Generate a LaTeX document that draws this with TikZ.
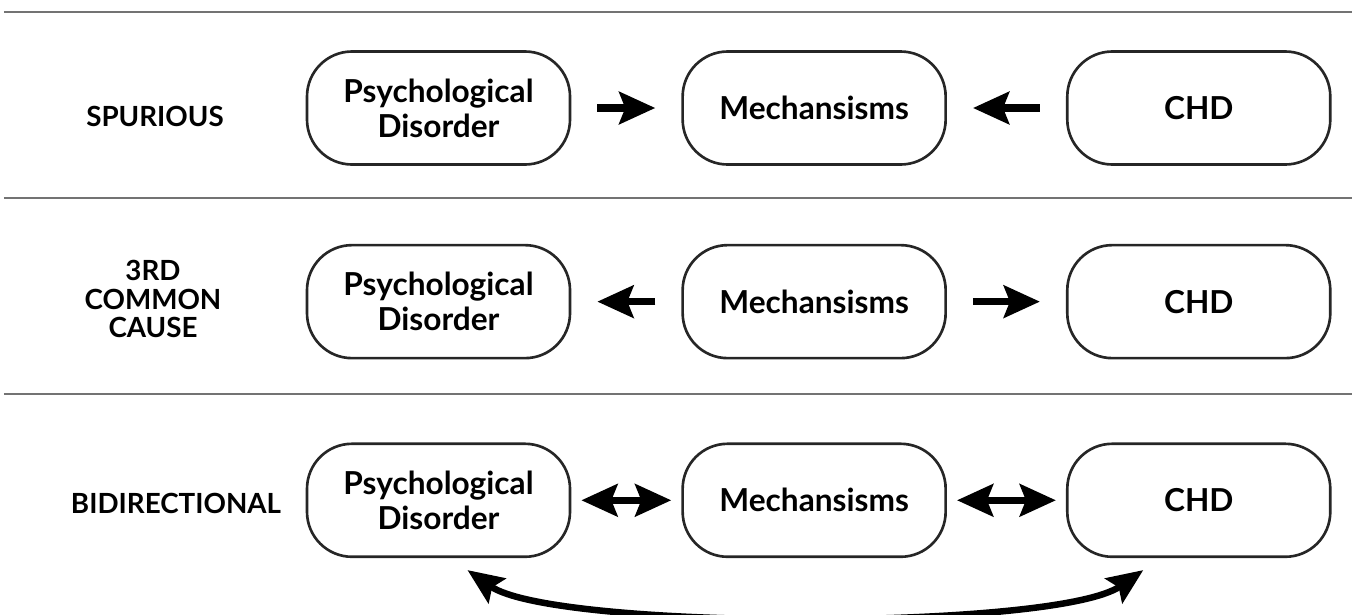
\documentclass[tikz,border=0pt]{standalone}
\usepackage{fontspec}
\setmainfont{Lato}
\usetikzlibrary{arrows.meta, positioning}
\tikzset{
  pill/.style = {
    rectangle, rounded corners=0.45cm, draw=black!85, line width=0.75pt,
    minimum width=2.63cm, minimum height=1.13cm,
    align=center, inner sep=2pt,
    font=\bfseries\fontsize{9}{10}\selectfont
  },
  rowlabel/.style = {
    align=center, inner sep=1pt,
    font=\bfseries\fontsize{7.9}{8}\selectfont
  },
  sepline/.style = {draw=black!55, line width=0.6pt},
  fat/.style  = {-{Stealth[length=0.36cm, width=0.32cm, inset=0.06cm]},
                 line width=0.075cm, shorten <=0.26cm, shorten >=0.26cm},
  fatb/.style = {{Stealth[length=0.36cm, width=0.32cm, inset=0.06cm]}-{Stealth[length=0.36cm, width=0.32cm, inset=0.06cm]},
                 line width=0.075cm, shorten <=0.1cm, shorten >=0.1cm},
  curv/.style = {{Stealth[length=0.36cm, width=0.3cm, inset=0.06cm]}-{Stealth[length=0.36cm, width=0.3cm, inset=0.06cm]},
                 line width=0.065cm}
}
\begin{document}
\begin{tikzpicture}
\useasboundingbox (0,0) rectangle (13.55,6.14);

%% separators
\coordinate (s1l) at (0.04,6.02);  \coordinate (s1r) at (13.52,6.02);
\coordinate (s2l) at (0.04,4.16);  \coordinate (s2r) at (13.52,4.16);
\coordinate (s3l) at (0.04,2.20);  \coordinate (s3r) at (13.52,2.20);
\draw[sepline] (s1l)--(s1r);
\draw[sepline] (s2l)--(s2r);
\draw[sepline] (s3l)--(s3r);

%% Row 1
\node[pill] (pdA) at (4.385,5.06) {Psychological\\Disorder};
\node[pill, right=1.1cm of pdA]   (meA)  {Mechansisms};
\node[pill, right=1.19cm of meA]  (chdA) {CHD};

%% Row 2
\node[pill, below=0.78cm of pdA]  (pdB)  {Psychological\\Disorder};
\node[pill, right=1.1cm of pdB]   (meB)  {Mechansisms};
\node[pill, right=1.19cm of meB]  (chdB) {CHD};

%% Row 3
\node[pill, below=0.83cm of pdB]  (pdC)  {Psychological\\Disorder};
\node[pill, right=1.1cm of pdC]   (meC)  {Mechansisms};
\node[pill, right=1.19cm of meC]  (chdC) {CHD};

%% Row labels
\node[rowlabel] (labA) at (1.55,4.98) {SPURIOUS};
\node[rowlabel] (labB) at (1.53,3.15) {3RD\\COMMON\\CAUSE};
\node[rowlabel] (labC) at (1.76,1.11) {BIDIRECTIONAL};

%% Row 1 arrows
\draw[fat] (pdA)--(meA);
\draw[fat] (chdA)--(meA);

%% Row 2 arrows
\draw[fat] (meB)--(pdB);
\draw[fat] (meB)--(chdB);

%% Row 3 arrows
\draw[fatb] (pdC)--(meC);
\draw[fatb] (meC)--(chdC);
\draw[curv] ([xshift=0.29cm,yshift=-0.12cm]pdC.south)
  to[out=-35,in=-145,looseness=0.4]
  ([xshift=-0.555cm,yshift=-0.12cm]chdC.south);

\end{tikzpicture}
\end{document}
